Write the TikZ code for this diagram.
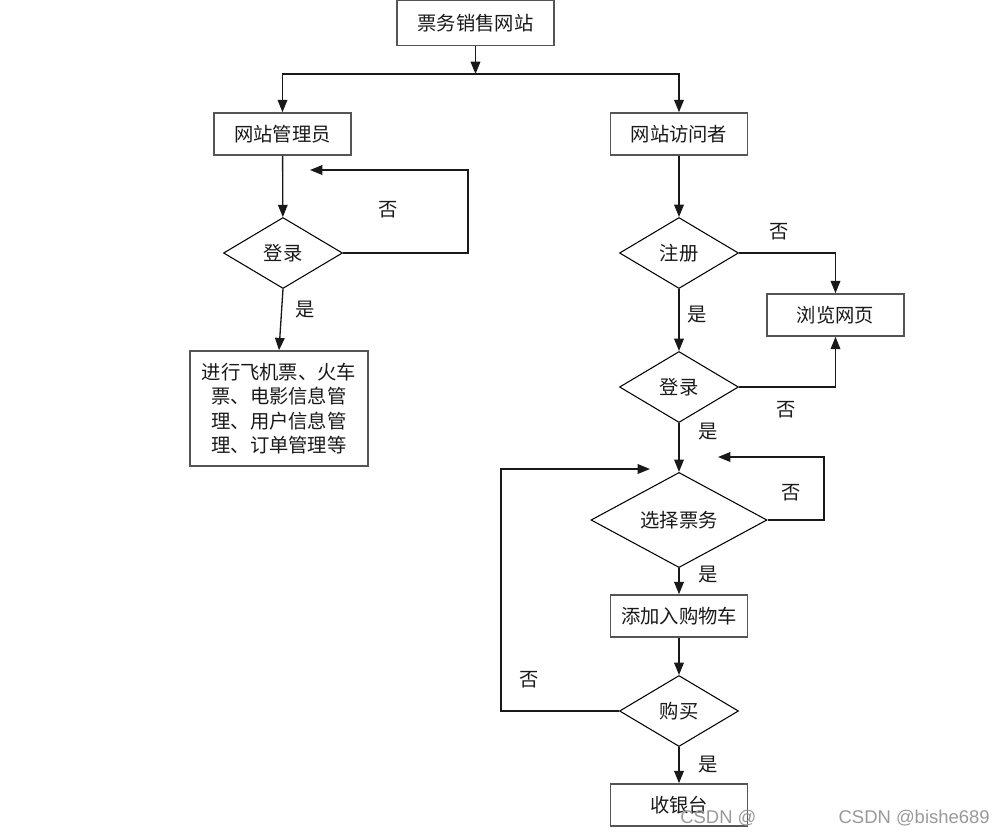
\documentclass[tikz,border=0pt]{standalone}
\usepackage{fontspec}
\newfontfamily\cjk{Noto Sans CJK SC}
\newfontfamily\wmfont{Liberation Sans}
\usetikzlibrary{shapes.geometric,arrows.meta}
\definecolor{boxgray}{RGB}{85,85,85}
\def\px{0.02cm}
\begin{document}
\begin{tikzpicture}[x=0.02cm,y=-0.02cm,
  txt/.style={font=\cjk\fontsize{11}{13.9}\selectfont, text=black!90},
  box/.style={txt, draw=boxgray, line width=0.9pt, inner sep=0pt, align=center},
  dia/.style={txt, draw=black, line width=0.6pt, shape=diamond, inner sep=0pt, minimum height=71*\px},
  arr/.style={draw=black!90, line width=0.75pt, -{Triangle[length=7pt,width=5.5pt]}},
  lab/.style={txt},
  wm/.style={font=\wmfont\fontsize{10.5}{12}\selectfont, text=black!40}]
\useasboundingbox (0,0) rectangle (992,836);

% nodes
\node[box, minimum width=157*\px, minimum height=45*\px] (top) at (475.5,23) {票务销售网站};
\node[box, minimum width=137*\px, minimum height=42*\px] (adm) at (282.5,134) {网站管理员};
\node[box, minimum width=137*\px, minimum height=42*\px] (vis) at (679,134) {网站访问者};
\node[dia, minimum width=119*\px] (d1) at (283,253) {登录};
\node[box, minimum width=178*\px, minimum height=115*\px] (big) at (279,408.5) {进行飞机票、火车\\票、电影信息管\\理、用户信息管\\理、订单管理等};
\node[dia, minimum width=119*\px] (d2) at (679,253) {注册};
\node[box, minimum width=137*\px, minimum height=42*\px] (browse) at (835.5,315) {浏览网页};
\node[dia, minimum width=119*\px] (d3) at (679,387) {登录};
\node[dia, minimum width=176*\px] (d4) at (679,520) {选择票务};
\node[box, minimum width=137*\px, minimum height=42*\px] (cart) at (679,616) {添加入购物车};
\node[dia, minimum width=119*\px] (d5) at (679,711) {购买};
\node[box, minimum width=137*\px, minimum height=42*\px] (cash) at (679,805) {收银台};

% coordinates
\coordinate (j) at (475.5,74);
\coordinate (c1) at (468,170);
\coordinate (l1) at (310,170);
\coordinate (c2) at (824,457);
\coordinate (l2) at (718,457);
\coordinate (c3) at (501,469);
\coordinate (l3) at (650,469);

% connectors
\draw[arr] (top) -- (j);
\draw[arr] (j) -| (adm);
\draw[arr] (j) -| (vis);
\draw[arr] (adm) -- (d1);
\draw[arr] (d1.east) -| (c1) -- (l1);
\draw[arr] (d1.south) -- (big.north);
\draw[arr] (vis) -- (d2);
\draw[arr] (d2.east) -| (browse);
\draw[arr] (d2) -- (d3);
\draw[arr] (d3.east) -| (browse);
\draw[arr] (d3) -- (d4);
\draw[arr] (d4.east) -| (c2) -- (l2);
\draw[arr] (d4) -- (cart);
\draw[arr] (cart) -- (d5);
\draw[arr] (d5.west) -| (c3) -- (l3);
\draw[arr] (d5) -- (cash);

% labels
\node[lab] (n1) at (388,210) {否};
\node[lab] (y1) at (305,310) {是};
\node[lab] (n2) at (779,232) {否};
\node[lab] (y2) at (697,315) {是};
\node[lab] (n3) at (786,410) {否};
\node[lab] (y3) at (708,432) {是};
\node[lab] (n4) at (791,493) {否};
\node[lab] (y4) at (708,575) {是};
\node[lab] (n5) at (529,680) {否};
\node[lab] (y5) at (708,765) {是};

% watermark
\node[wm, anchor=west, inner sep=0pt] (wm1) at (680,818) {CSDN @};
\node[wm, anchor=east, inner sep=0pt] (wm2) at (990,818) {CSDN @bishe689};
\end{tikzpicture}
\end{document}
